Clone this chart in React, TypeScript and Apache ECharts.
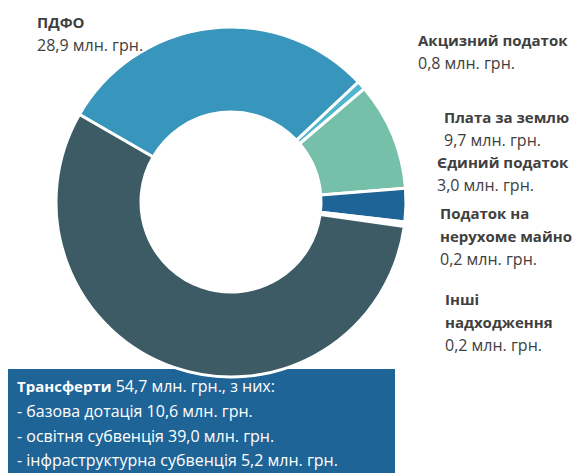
import React, { useEffect, useRef } from "react";
import * as echarts from "echarts";

const categories = [
  "ПДФО",
  "Акцизний податок",
  "Плата за землю",
  "Єдиний податок",
  "Податок на\nнерухоме майно",
  "Інші\nнадходження",
  "Трансферти",
];
const values = [28.9, 0.8, 9.7, 3.0, 0.2, 0.2, 54.7];
const colors = ["#3895bb", "#4fb6cc", "#76bfa9", "#1f6496", "#2c6f8f", "#5b8a93", "#3c5b64"];
const unit = "млн. грн.";
const transferParts = ["базова дотація", "освітня субвенція", "інфраструктурна субвенція"];
const transferValues = [10.6, 39.0, 5.2];

const labelPos: [number, number][] = [
  [37, 10],
  [418, 28],
  [444, 105],
  [437, 150],
  [440, 201],
  [445, 287],
];

const fmt = (v: number) => v.toFixed(1).replace(".", ",");
const FONT = "'Open Sans', 'Noto Sans', sans-serif";

export default function App() {
  const ref = useRef<HTMLDivElement>(null);
  useEffect(() => {
    if (!ref.current) return;
    const chart = echarts.init(ref.current, undefined, { renderer: "svg" });
    const lastIdx = categories.length - 1;
    const transferText =
      `{b|${categories[lastIdx]}} ${fmt(values[lastIdx])} ${unit}, з них:\n` +
      transferParts.map((p, i) => `- ${p} ${fmt(transferValues[i])} ${unit}`).join("\n");
    chart.setOption({
      animation: false,
      backgroundColor: "#ffffff",
      series: [
        {
          type: "pie",
          center: [231, 202],
          radius: [90, 175],
          startAngle: 150,
          clockwise: true,
          minAngle: 0,
          avoidLabelOverlap: false,
          itemStyle: { borderColor: "#ffffff", borderWidth: 3 },
          labelLine: { show: false },
          label: {
            show: true,
            fontFamily: FONT,
            color: "#404040",
            formatter: (p: any) => `{n|${p.name}}\n{v|${fmt(p.value)} ${unit}}`,
            rich: {
              n: { fontFamily: FONT, fontSize: 15, fontWeight: "bold", color: "#404040", lineHeight: 23 },
              v: { fontFamily: FONT, fontSize: 16, color: "#404040", lineHeight: 23 },
            },
          },
          labelLayout: (params: any) => {
            const p = labelPos[params.dataIndex];
            if (!p) return {};
            return { x: p[0], y: p[1], align: "left", verticalAlign: "top" };
          },
          data: categories.map((c, i) => ({
            name: c,
            value: values[i],
            itemStyle: { color: colors[i] },
            label: i === lastIdx ? { show: false } : undefined,
          })),
        },
      ],
      graphic: [
        {
          type: "rect",
          shape: { x: 8, y: 369, width: 387, height: 110 },
          style: { fill: "#1f6496" },
        },
        {
          type: "text",
          x: 17,
          y: 374,
          style: {
            text: transferText,
            fill: "#ffffff",
            fontFamily: FONT,
            fontSize: 16,
            lineHeight: 24.7,
            rich: {
              b: { fontFamily: FONT, fontSize: 15, fontWeight: "bold", fill: "#ffffff", lineHeight: 24.7 },
            },
          },
        },
      ],
    });
    return () => chart.dispose();
  }, []);
  return (
    <div
      ref={ref}
      style={{ position: "fixed", left: 0, top: 0, width: 580, height: 473 }}
    />
  );
}
